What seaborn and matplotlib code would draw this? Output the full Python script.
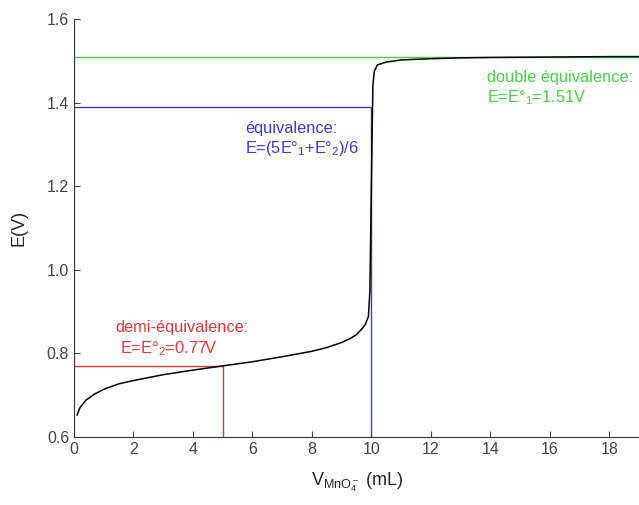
import numpy as np
import pandas as pd
import matplotlib
matplotlib.use('Agg')
import matplotlib.pyplot as plt
import seaborn as sns

# titration curve
volume = [0.1, 0.2, 0.4, 0.7, 1.0, 1.5, 2.0, 3.0, 4.0, 5.0, 6.0, 7.0, 8.0, 8.5, 9.0,
          9.3, 9.5, 9.7, 9.8, 9.9, 9.95, 10.0, 10.05, 10.1, 10.2, 10.5, 11.0, 12.0,
          13.0, 14.0, 16.0, 18.0, 19.0]
potential = [0.652, 0.670, 0.688, 0.703, 0.714, 0.727, 0.735, 0.749, 0.760, 0.770,
             0.780, 0.792, 0.805, 0.814, 0.826, 0.836, 0.845, 0.860, 0.870, 0.888,
             0.95, 1.20, 1.44, 1.475, 1.490, 1.497, 1.502, 1.505, 1.507, 1.508,
             1.509, 1.510, 1.510]

E2 = 0.77   # demi-equivalence
Eeq = 1.39  # equivalence
E1 = 1.51   # double equivalence
V_half = 5
V_eq = 10

df = pd.DataFrame({'V': volume, 'E': potential})

sns.set_style('ticks')
plt.rcParams['font.family'] = ['Liberation Sans', 'DejaVu Sans']
plt.rcParams['mathtext.default'] = 'regular'

fig = plt.figure(figsize=(6.39, 5.05), dpi=100)
ax = fig.add_axes([0.1158, 0.1347, 0.8842, 0.8277])

blue = '#3a3ad8'
green = '#44d444'
red = '#e03838'

ax.axhline(E1, color=green, lw=1)
ax.plot([0, V_eq, V_eq], [Eeq, Eeq, 0.6], color=blue, lw=1)
ax.plot([0, V_half, V_half], [E2, E2, 0.6], color=red, lw=1)
sns.lineplot(data=df, x='V', y='E', color='black', lw=1.1, ax=ax)

fs = 11.8
ax.text(5.75, 1.339, 'équivalence:', color=blue, fontsize=fs, va='center')
ax.text(5.75, 1.291, 'E=(5E°$_1$+E°$_2$)/6', color=blue, fontsize=fs, va='center')
ax.text(13.9, 1.461, 'double équivalence:', color=green, fontsize=fs, va='center')
ax.text(13.9, 1.413, 'E=E°$_1$=1.51V', color=green, fontsize=fs, va='center')
ax.text(1.4, 0.861, 'demi-équivalence:', color=red, fontsize=fs, va='center')
ax.text(1.55, 0.811, 'E=E°$_2$=0.77V', color=red, fontsize=fs, va='center')

ax.set_xlim(0, 19)
ax.set_ylim(0.6, 1.6)
ax.set_xticks(range(0, 19, 2))
ax.set_yticks([0.6, 0.8, 1.0, 1.2, 1.4, 1.6])
ax.set_yticklabels(['0.6', '0.8', '1.0', '1.2', '1.4', '1.6'])
ax.tick_params(direction='in', labelsize=11.5, colors='#444444', length=4)
ax.set_xlabel('$V_{MnO_4^-}$ (mL)', fontsize=13, labelpad=10)
ax.set_ylabel('E(V)', fontsize=13, labelpad=14)
for s in ['left', 'bottom']:
    ax.spines[s].set_color('#333333')
sns.despine(ax=ax)

fig.savefig('out.png', dpi=100)
